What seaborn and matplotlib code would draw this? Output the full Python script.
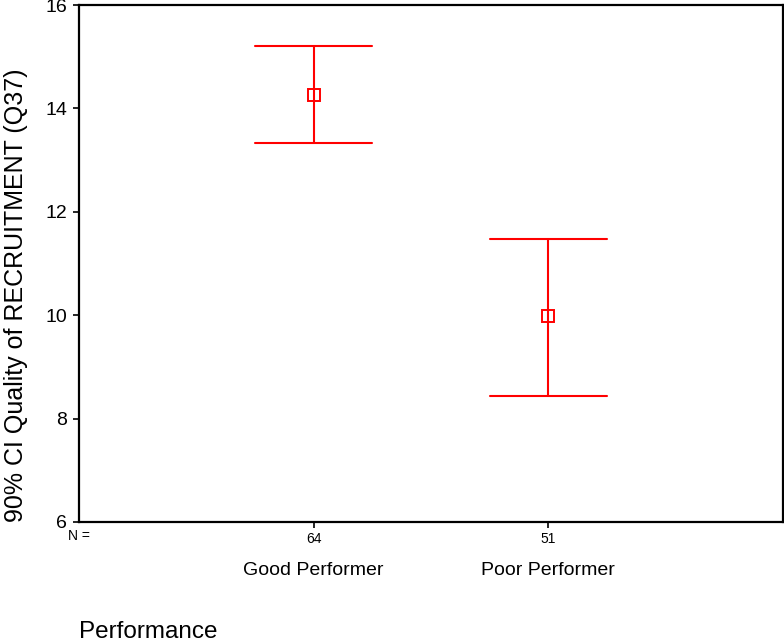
import matplotlib
matplotlib.use("Agg")
import matplotlib.pyplot as plt
import matplotlib.transforms as mtransforms
import pandas as pd
import seaborn as sns

# Group summaries: mean and 90% confidence interval of Q37
categories = ["Good Performer", "Poor Performer"]
counts = [64, 51]
means = [14.26, 9.98]
ci_low = [13.33, 8.44]
ci_high = [15.21, 11.47]
y_ticks = [6, 8, 10, 12, 14, 16]

sns.set_style("ticks")
plt.rcParams["font.family"] = ["Liberation Sans", "DejaVu Sans"]
plt.rcParams["text.color"] = "black"
plt.rcParams["xtick.color"] = "black"
plt.rcParams["ytick.color"] = "black"
plt.rcParams["xtick.labelcolor"] = "black"
plt.rcParams["ytick.labelcolor"] = "black"

# Long table: each group contributes its lower bound, mean and upper bound;
# the median gives the mean and the full percentile range gives the interval.
rows = []
for cat, lo, m, hi in zip(categories, ci_low, means, ci_high):
    for v in (lo, m, hi):
        rows.append({"Performance": cat, "Q37": v})
df = pd.DataFrame(rows)

W, H = 784, 643
fig = plt.figure(figsize=(W / 100, H / 100), dpi=100)
ax = fig.add_axes([79 / W, 1 - 522 / H, 704 / W, 517 / H])

sns.pointplot(
    data=df, x="Performance", y="Q37", order=categories,
    estimator="median", errorbar=("pi", 100),
    color="#ff0000", capsize=0.5, linestyle="none", marker="s",
    markersize=8.5, markerfacecolor="none", markeredgewidth=1.4,
    err_kws={"linewidth": 1.5}, ax=ax,
)

ax.set_xlim(-1, 2)
ax.set_ylim(6, 16)
ax.set_yticks(y_ticks)
ax.set_yticklabels([str(t) for t in y_ticks], fontsize=14)
ax.set_xticks(range(len(categories)))
ax.set_xticklabels([str(n) for n in counts], fontsize=10)
ax.tick_params(axis="both", direction="out", length=4.5, width=1.2,
               color="black", labelcolor="black")
ax.tick_params(axis="y", pad=4)
ax.tick_params(axis="x", pad=3)
ax.set_xlabel("")
ax.set_ylabel("")
for s in ax.spines.values():
    s.set_visible(True)
    s.set_color("black")
    s.set_linewidth(1.6)

# Sample-size prefix and group names beneath the counts
trans = mtransforms.blended_transform_factory(ax.transData, ax.transAxes)
ax.text(0.0, -0.027, "N =", transform=ax.transAxes, ha="center", va="center",
        fontsize=10)
for i, cat in enumerate(categories):
    ax.text(i, -0.093, cat, transform=trans, ha="center", va="center", fontsize=14)

fig.text(16 / W, 1 - 295 / H, "90% CI Quality of RECRUITMENT (Q37)",
         rotation=90, ha="center", va="center", fontsize=18)
fig.text(79 / W, 1 - 632 / H, "Performance", ha="left", va="center", fontsize=17.5)

fig.savefig("out.png", dpi=100)
